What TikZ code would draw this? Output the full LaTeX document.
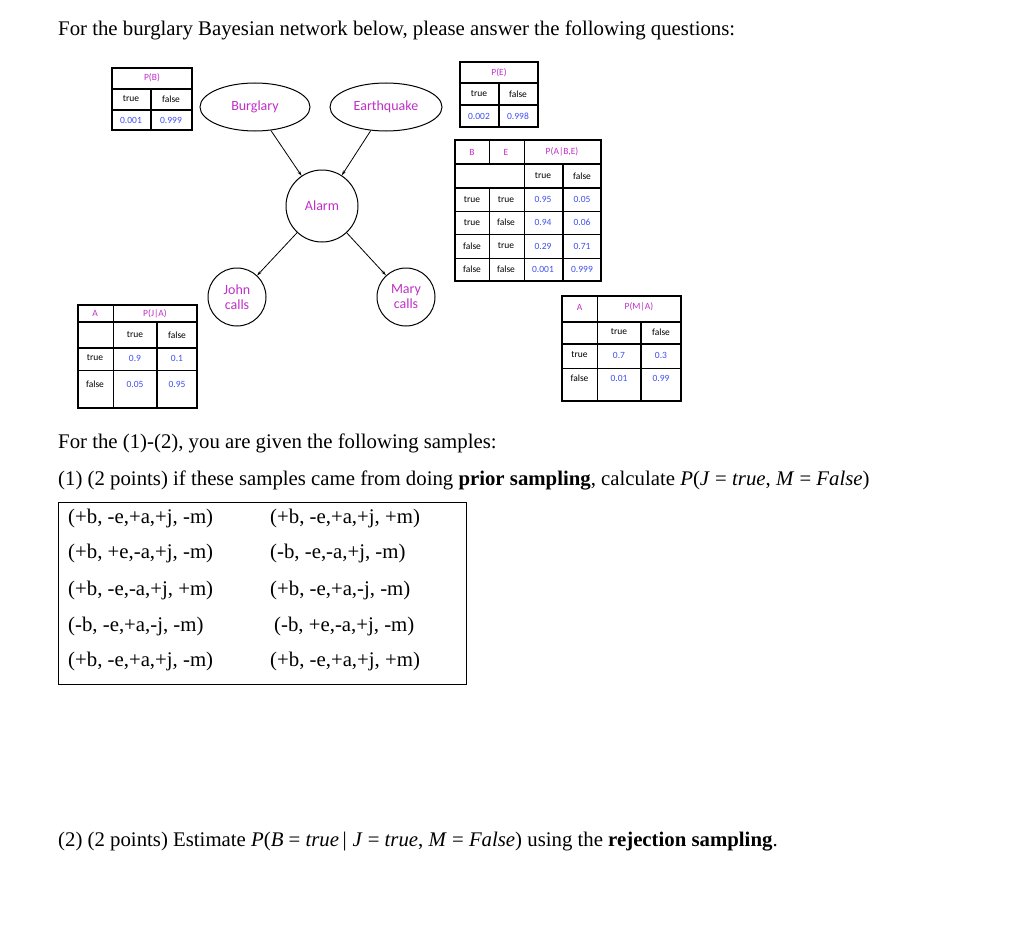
\documentclass[tikz,border=0pt]{standalone}
\usepackage{fontspec}
\setmainfont{Liberation Serif}
\newfontfamily\calfont{Carlito}
\usetikzlibrary{arrows.meta,shapes.geometric}
\definecolor{mag}{HTML}{C030C8}
\definecolor{blu}{HTML}{4050F0}
\tikzset{
 bn/.style={draw,line width=1pt,inner sep=0pt,font=\calfont\fontsize{14}{15}\selectfont,text=mag,align=center},
 cl/.style={font=\calfont\fontsize{9.5}{10}\selectfont,inner sep=0pt},
 hd/.style={cl,text=mag},
 nm/.style={cl,text=blu},
 thk/.style={line width=1.1pt},
 thn/.style={line width=0.5pt},
 arr/.style={line width=0.8pt,-{Stealth[length=5pt,width=3pt]}},
 tx/.style={font=\fontsize{20.8}{24}\selectfont,anchor=west,inner sep=0pt},
}
\newcommand{\mi}[1]{\textit{#1}}
\begin{document}
\begin{tikzpicture}[x=1pt,y=-1pt]
\useasboundingbox (0,0) rectangle (1024,939);
\fill[white] (0,0) rectangle (1024,939);
\node[tx] (t1) at (58,30) {For the burglary Bayesian network below, please answer the following questions:};
% Bayes net
\node[bn,ellipse,minimum width=110pt,minimum height=48pt] (B) at (255,107) {Burglary};
\node[bn,ellipse,minimum width=112pt,minimum height=48pt] (E) at (386,107) {Earthquake};
\node[bn,circle,minimum size=72pt] (A) at (322,206) {Alarm};
\node[bn,circle,minimum size=58pt] (J) at (237,297) {John\\calls};
\node[bn,circle,minimum size=58pt] (M) at (406,297) {Mary\\calls};
\draw[arr] (B) -- (A);
\draw[arr] (E) -- (A);
\draw[arr] (A) -- (J);
\draw[arr] (A) -- (M);
% P(B)
\draw[thk] (112,68) rectangle (192,130);
\draw[thk] (112,89) -- (192,89) (112,110) -- (192,110) (151,89) -- (151,130);
\node[hd] (pb) at (152,78) {P(B)};
\node[cl] (pb1) at (131,99) {true};
\node[cl] (pb2) at (171,99) {false};
\node[nm] (pb3) at (131,120) {0.001};
\node[nm] (pb4) at (171,120) {0.999};
% P(E)
\draw[thk] (460,62) rectangle (538,127);
\draw[thk] (460,83) -- (538,83) (460,105) -- (538,105) (499,83) -- (499,127);
\node[hd] (pe) at (499,73) {P(E)};
\node[cl] (pe1) at (479,94) {true};
\node[cl] (pe2) at (518,94) {false};
\node[nm] (pe3) at (479,116) {0.002};
\node[nm] (pe4) at (518,116) {0.998};
% P(A|B,E)
\draw[thk] (455,140) rectangle (601,281);
\foreach \y in {164,188,211,234,258} \draw[thn] (455,\y) -- (601,\y);
\draw[thk] (455,164) -- (601,164) (455,188) -- (601,188);
\draw[thn] (489,140) -- (489,164) (489,188) -- (489,281) (524,140) -- (524,281);
\draw[thk] (563,164) -- (563,281);
\node[hd] (a0) at (472,152) {B};
\node[hd] (a1) at (506,152) {E};
\node[hd] (a2) at (562,152) {P(A|B,E)};
\node[cl] (a3) at (543,176) {true};
\node[cl] (a4) at (582,176) {false};
\foreach \b/\e/\p/\q/\y [count=\i] in {true/true/0.95/0.05/199.5,true/false/0.94/0.06/222.5,false/true/0.29/0.71/246,false/false/0.001/0.999/269.5}{
 \node[cl] (ab\i) at (472,\y) {\b};
 \node[cl] (ae\i) at (506,\y) {\e};
 \node[nm] (ap\i) at (543,\y) {\p};
 \node[nm] (aq\i) at (582,\y) {\q};
}
% P(J|A)
\draw[thk] (78,305) rectangle (197,408);
\draw[thk] (78,322) -- (197,322) (78,348) -- (197,348);
\draw[thn] (78,370) -- (197,370) (113,305) -- (113,408);
\draw[thk] (157,322) -- (157,408);
\node[hd] (j0) at (95,313.5) {A};
\node[hd] (j1) at (155,313.5) {P(J|A)};
\node[cl] (j2) at (135,335) {true};
\node[cl] (j3) at (177,335) {false};
\node[cl] (j4) at (95,358) {true};
\node[nm] (j5) at (135,358) {0.9};
\node[nm] (j6) at (177,358) {0.1};
\node[cl] (j7) at (95,384) {false};
\node[nm] (j8) at (135,384) {0.05};
\node[nm] (j9) at (177,384) {0.95};
% P(M|A)
\draw[thk] (562,296) rectangle (681,401);
\draw[thk] (562,322) -- (681,322) (562,344) -- (681,344);
\draw[thn] (562,368) -- (681,368) (597,296) -- (597,401);
\draw[thk] (641,322) -- (641,401);
\node[hd] (m0) at (579.5,307) {A};
\node[hd] (m1) at (639,307) {P(M|A)};
\node[cl] (m2) at (619,332) {true};
\node[cl] (m3) at (661,332) {false};
\node[cl] (m4) at (579.5,355) {true};
\node[nm] (m5) at (619,355) {0.7};
\node[nm] (m6) at (661,355) {0.3};
\node[cl] (m7) at (579.5,378) {false};
\node[nm] (m8) at (619,378) {0.01};
\node[nm] (m9) at (661,378) {0.99};
% text
\node[tx] (t2) at (58,443) {For the (1)-(2), you are given the following samples:};
\node[tx] (t3) at (58,480) {(1) (2 points) if these samples came from doing \textbf{prior sampling}, calculate \mi{P}(\mi{J} = \mi{true}, \mi{M} = \mi{False})};
\draw[line width=0.6pt] (58,502) rectangle (466,684);
\foreach \a/\b/\y [count=\i] in {{(+b, -e,+a,+j, -m)}/{(+b, -e,+a,+j, +m)}/518,{(+b, +e,-a,+j, -m)}/{(-b, -e,-a,+j, -m)}/553,{(+b, -e,-a,+j, +m)}/{(+b, -e,+a,-j, -m)}/590,{(-b, -e,+a,-j, -m)}/{\hspace{4pt}(-b, +e,-a,+j, -m)}/626,{(+b, -e,+a,+j, -m)}/{(+b, -e,+a,+j, +m)}/661}{
 \node[tx] (sa\i) at (68,\y) {\a};
 \node[tx] (sb\i) at (270,\y) {\b};
}
\node[tx] (t4) at (58,842) {(2) (2 points) Estimate \mi{P}(\mi{B} = \mi{true}\,|\;\mi{J} = \mi{true}, \mi{M} = \mi{False}) using the \textbf{rejection sampling}.};
\end{tikzpicture}
\end{document}
